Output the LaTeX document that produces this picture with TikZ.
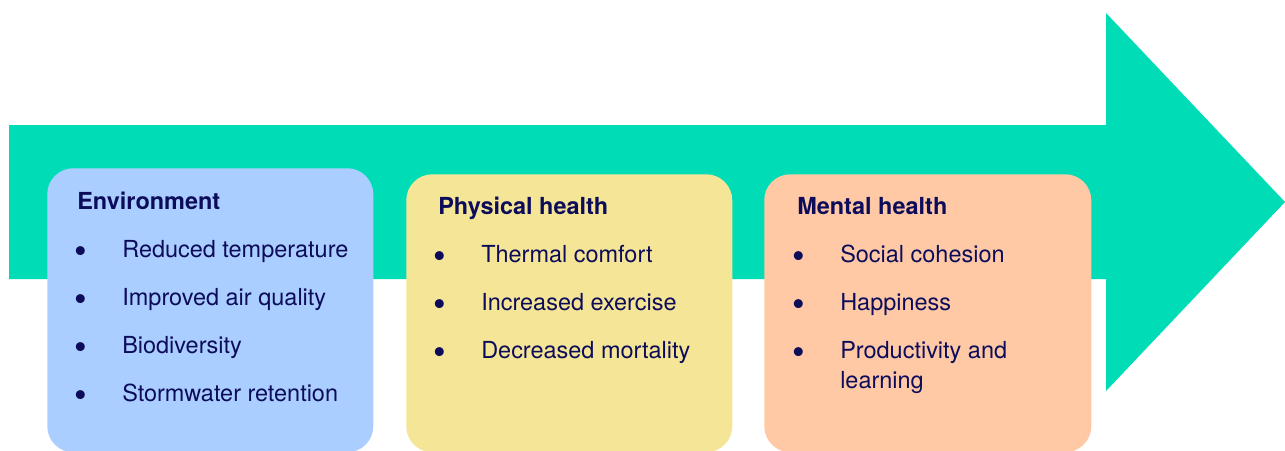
\documentclass[tikz,border=0pt]{standalone}
\usepackage{fontspec}
\setmainfont{TeX Gyre Heros}
\usetikzlibrary{positioning}

\definecolor{arrowteal}{RGB}{0,221,182}
\definecolor{envblue}{RGB}{170,206,255}
\definecolor{physyellow}{RGB}{245,229,150}
\definecolor{mentpeach}{RGB}{255,201,165}
\definecolor{navy}{RGB}{12,12,90}

\newcommand{\cardfont}{\fontsize{17.6}{22.5}\selectfont}

\tikzset{
  card/.style={rounded corners=19.5pt, inner sep=0pt, anchor=north west},
  cardtitle/.style={anchor=base west, inner sep=0pt, text=navy, font=\cardfont\bfseries},
  item/.style={anchor=base west, inner sep=0pt, align=left, text=navy, font=\cardfont},
  dot/.style={anchor=base, inner sep=0pt, yshift=-4.5pt, text=navy, font=\fontsize{27}{27}\selectfont}
}

\begin{document}
\begin{tikzpicture}[x=0.75pt, y=-0.75pt]
\useasboundingbox (0,0) rectangle (1285,450);

% big arrow
\fill[arrowteal] (9,125) -- (1106,125) -- (1106,13) -- (1285,202)
  -- (1106,391) -- (1106,279) -- (9,279) -- cycle;

% cards
\node[card, fill=envblue, minimum width=244.5pt, minimum height=213pt] (env) at (47,168) {};
\node[card, fill=physyellow, minimum width=244.5pt, minimum height=208.5pt] (phys) at (406,174) {};
\node[card, fill=mentpeach, minimum width=245.25pt, minimum height=208.5pt] (ment) at (764,174) {};

% environment
\node[cardtitle] (envtitle) at (77,209) {Environment};
\foreach \t [count=\i] in {Reduced temperature, Improved air quality, Biodiversity, Stormwater retention}
{
    \node[dot] (envdot\i) at (80.5,209+48*\i) {\textbullet};
    \node[item] (envitem\i) at (122,209+48*\i) {\t};
}

% physical health
\node[cardtitle] (phystitle) at (438,214) {Physical health};
\foreach \t [count=\i] in {Thermal comfort, Increased exercise, Decreased mortality}
{
    \node[dot] (physdot\i) at (439.5,214+48*\i) {\textbullet};
    \node[item] (physitem\i) at (481,214+48*\i) {\t};
}

% mental health
\node[cardtitle] (menttitle) at (797,214) {Mental health};
\foreach \t [count=\i] in {Social cohesion, Happiness}
{
    \node[dot] (mentdot\i) at (798.5,214+48*\i) {\textbullet};
    \node[item] (mentitem\i) at (840,214+48*\i) {\t};
}
\node[dot] (mentdot3) at (798.5,358) {\textbullet};
\node[item] (mentitem3) at (840,388) {Productivity and\\learning};
\end{tikzpicture}
\end{document}
